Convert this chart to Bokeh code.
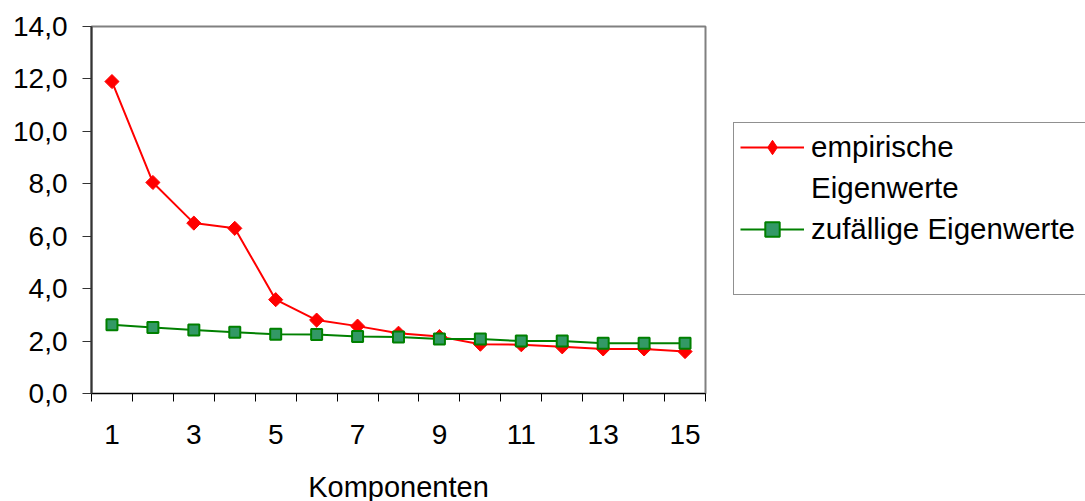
import math

from bokeh.embed import file_html
from bokeh.models import (CustomJSTickFormatter, FixedTicker, Legend,
                          LegendItem, Range1d)
from bokeh.plotting import figure
from bokeh.resources import INLINE

# Eigenwerte je Komponente (empirisch vs. Zufallsdaten, Parallelanalyse)
komponenten = [1, 2, 3, 4, 5, 6, 7, 8, 9, 10, 11, 12, 13, 14, 15]
empirische = [11.9, 8.05, 6.5, 6.3, 3.58, 2.8, 2.57, 2.3, 2.17, 1.88,
              1.86, 1.78, 1.7, 1.7, 1.6]
zufaellige = [2.62, 2.52, 2.42, 2.34, 2.26, 2.25, 2.17, 2.16, 2.08, 2.08,
              2.0, 2.0, 1.92, 1.92, 1.92]

x_labels = [1, 3, 5, 7, 9, 11, 13, 15]
y_ticks = [0, 2, 4, 6, 8, 10, 12, 14]
x_title = "Komponenten"
label_emp = ["empirische", "Eigenwerte"]
label_zuf = "zufällige Eigenwerte"

FONT = "Liberation Sans"
FS = "28px"
RED = "#FF0000"
GREEN = "#008000"
GREEN_FILL = "#339966"

p = figure(
    frame_width=614, frame_height=367,
    min_border_left=91, min_border_right=380,
    min_border_top=26, min_border_bottom=82,
    x_range=Range1d(0.5, 15.5), y_range=Range1d(0, 14),
    output_backend="svg", toolbar_location=None,
)
p.background_fill_color = "white"
p.border_fill_color = "white"
p.outline_line_color = "#808080"
p.outline_line_width = 2
p.xgrid.visible = False
p.ygrid.visible = False

# x axis: labels at odd categories, tick marks between the categories
xa = p.xaxis[0]
xa.ticker = FixedTicker(ticks=x_labels,
                        minor_ticks=[k - 0.5 for k in komponenten] + [komponenten[-1] + 0.5])
xa.major_tick_out = 0
xa.major_tick_in = 0
xa.minor_tick_out = 8
xa.minor_tick_in = 0
xa.minor_tick_line_color = "black"
xa.axis_line_color = "black"
xa.axis_line_width = 1
xa.major_label_text_font = FONT
xa.major_label_text_font_size = FS
xa.major_label_text_color = "black"
xa.major_label_standoff = 23
xa.axis_label = x_title
xa.axis_label_text_font = FONT
xa.axis_label_text_font_size = "29px"
xa.axis_label_text_font_style = "normal"
xa.axis_label_text_color = "black"
xa.axis_label_standoff = 24

ya = p.yaxis[0]
ya.ticker = FixedTicker(ticks=y_ticks)
ya.formatter = CustomJSTickFormatter(code="return tick.toFixed(1).replace('.', ',');")
ya.major_tick_out = 9
ya.major_tick_in = 0
ya.minor_tick_out = 0
ya.minor_tick_in = 0
ya.axis_line_color = "#333333"
ya.axis_line_width = 2
ya.major_tick_line_color = "#333333"
ya.major_tick_line_width = 1
ya.major_label_text_font = FONT
ya.major_label_text_font_size = FS
ya.major_label_text_color = "black"
ya.major_label_standoff = 15

emp_line = p.line(komponenten, empirische, line_color=RED, line_width=2)
emp_pts = p.scatter(komponenten, empirische, marker="square", angle=math.pi / 4,
                    size=10, fill_color=RED, line_color=RED, line_width=1)
zuf_line = p.line(komponenten, zufaellige, line_color=GREEN, line_width=2)
zuf_pts = p.scatter(komponenten, zufaellige, marker="square", size=11,
                    fill_color=GREEN_FILL, line_color=GREEN, line_width=2)
# diamond key for the legend only (hidden in the plot itself)
emp_key = p.scatter(komponenten, empirische, marker="diamond", size=15,
                    fill_color=RED, line_color=RED, visible=False)
# invisible helper: legend rows without a key
blank = p.line(komponenten, zufaellige, line_alpha=0)

legend = Legend(
    items=[LegendItem(label=label_emp[0], renderers=[emp_line, emp_key]),
           LegendItem(label=label_emp[1], renderers=[blank]),
           LegendItem(label=label_zuf, renderers=[zuf_line, zuf_pts]),
           LegendItem(label=" ", renderers=[blank])],
    location=(28, 98), orientation="vertical",
    padding=6, margin=0, spacing=5,
    glyph_width=64, glyph_height=36, label_height=36, label_standoff=7,
    label_width=277,
    border_line_color="#222222", border_line_width=1,
    background_fill_color="white", background_fill_alpha=1,
    inactive_fill_alpha=0,
    label_text_font=FONT, label_text_font_size="29.5px", label_text_color="black",
)
p.add_layout(legend, "right")

open("out.html", "w").write(file_html(p, INLINE))
